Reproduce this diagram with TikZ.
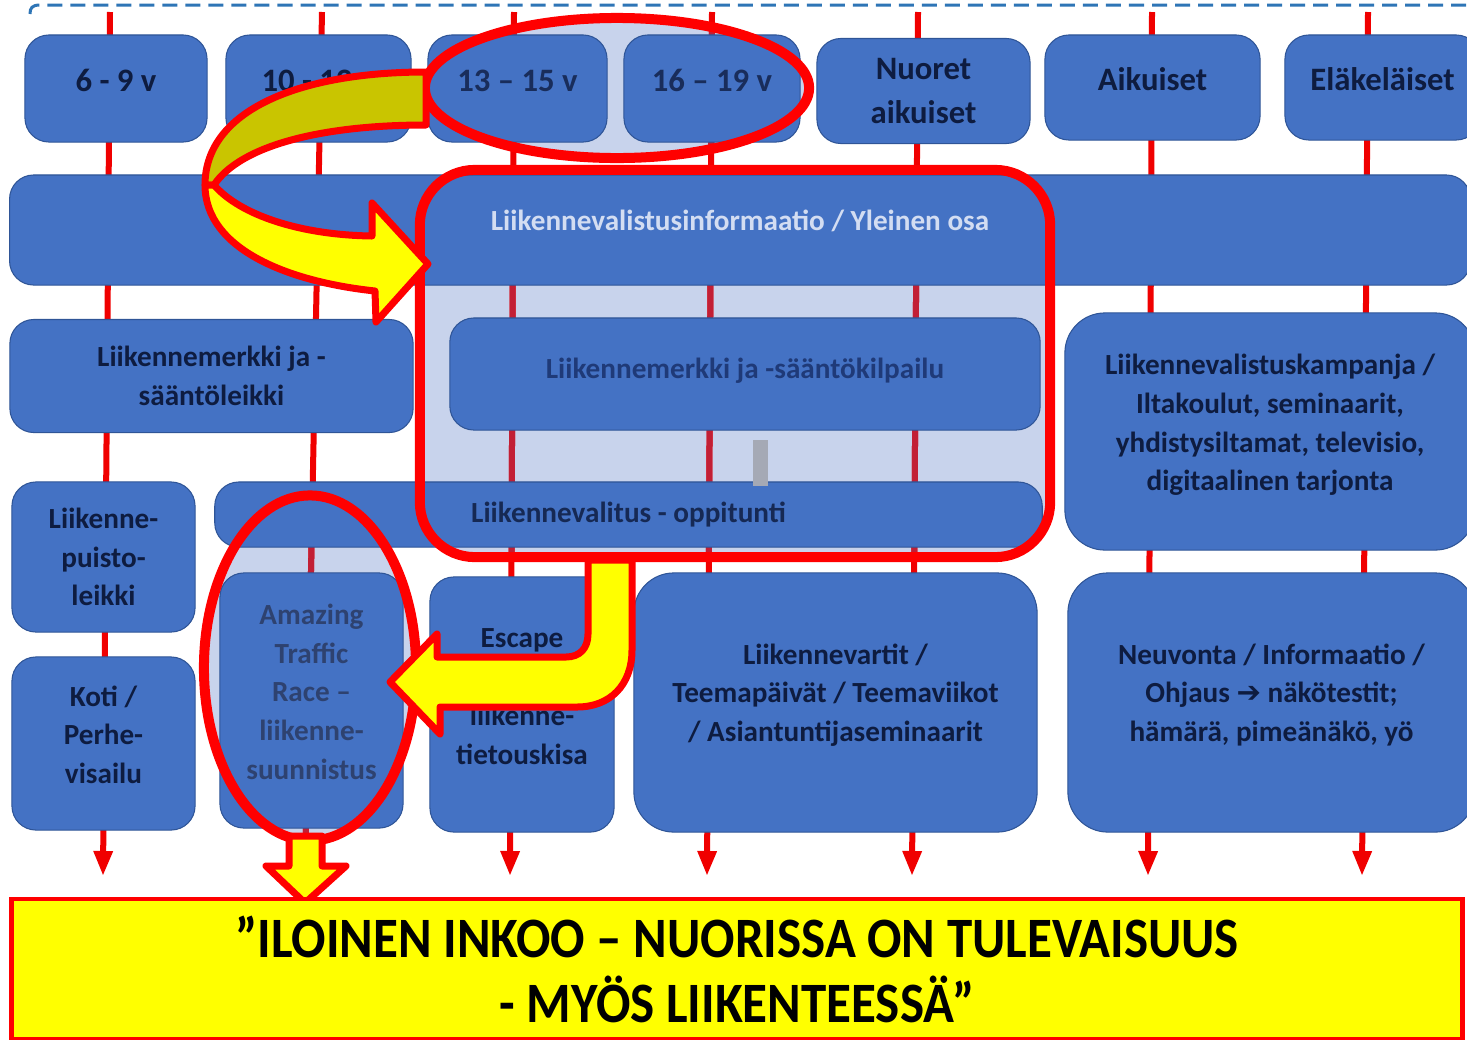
\documentclass[tikz,border=0pt]{standalone}
\usepackage{fontspec}
\setmainfont{Carlito}
\newfontfamily\symfont{DejaVu Sans}
\usetikzlibrary{arrows.meta,shapes.geometric}

\definecolor{boxblue}{HTML}{4472C4}
\definecolor{boxedge}{HTML}{2F5597}
\definecolor{navytext}{HTML}{0E1C40}
\definecolor{fadetext}{RGB}{31,58,120}
\definecolor{paletext}{HTML}{D3DDF2}
\definecolor{greytext}{RGB}{46,66,112}
\definecolor{ringred}{HTML}{FF0000}
\definecolor{lifered}{HTML}{F00000}
\definecolor{shadedred}{HTML}{C21F35}
\definecolor{shadeblue}{HTML}{C8D3EC}
\definecolor{markyellow}{HTML}{FFFF00}
\definecolor{markolive}{HTML}{C9C500}
\definecolor{dashblue}{HTML}{2E75B6}
\definecolor{cursorgrey}{HTML}{A5A9B5}

\tikzset{
  agebox/.style={draw=boxedge, line width=0.3pt, fill=boxblue, rounded corners=2.4mm,
    align=center, text=navytext, inner sep=0pt,
    font=\fontsize{9.3}{12.5}\selectfont\bfseries},
  actbox/.style={agebox, font=\fontsize{8.3}{11}\selectfont\bfseries},
  bigbox/.style={actbox, rounded corners=4mm},
  lifeline/.style={lifered, line width=0.6mm, -{Triangle[width=1.8mm,length=2.5mm]}},
  shadedline/.style={shadedred, line width=0.6mm},
  hilite/.style={fill=shadeblue},
  ring/.style={draw=ringred, line width=1mm},
  bigarrow/.style={draw=ringred, line width=0.7mm, line join=round, fill=markyellow},
}

\begin{document}
\begin{tikzpicture}[x=0.01cm, y=-0.01cm]
  \useasboundingbox (0,0) rectangle (1467,1039);
  \clip (0,0) rectangle (1467,1039);

  % dashed frame at the top
  \draw[dashblue, line width=0.3mm, dash pattern=on 1.5mm off 0.8mm]
    (30,14) .. controls (30,8) and (32,5) .. (40,5) -- (1480,5);

  % light shading of the marked areas
  \fill[hilite] (617,88) ellipse [x radius=1.92cm, y radius=0.7cm];
  \fill[hilite, rounded corners=5.5mm] (420,170) rectangle (1050,557);
  \fill[hilite] (310,668) ellipse [x radius=1.06cm, y radius=1.725cm];

  % life lines of the age groups
  \foreach \i/\xt/\xb in {1/110/103, 2/322/305, 3/514/510, 4/712/707, 5/918/912, 6/1152/1148, 7/1368/1362} {
    \coordinate (top\i) at (\xt,12);
    \coordinate (end\i) at (\xb,876);
    \draw[lifeline] (top\i) -- (end\i);
  }

  % the life lines look darker inside the shading
  \begin{scope}
    \clip (617,88) ellipse [x radius=1.92cm, y radius=0.7cm]
          (310,668) ellipse [x radius=1.06cm, y radius=1.725cm]
          [rounded corners=5.5mm] (420,170) rectangle (1050,557);
    \foreach \i in {2,...,5}
      \draw[shadedline] (top\i) -- (end\i);
  \end{scope}

  % age groups
  \node[agebox, minimum width=1.82cm, minimum height=1.07cm, text depth=1.6mm] (age69) at (116,88.5) {6 - 9 v};
  \node[agebox, minimum width=1.85cm, minimum height=1.07cm, text depth=1.6mm] (age1012) at (318.5,88.5) {10 - 12 v};
  \node[agebox, minimum width=1.79cm, minimum height=1.07cm, text depth=1.6mm, text=navytext!80!boxblue] (age1315) at (517.5,88.5) {13 – 15 v};
  \node[agebox, minimum width=1.76cm, minimum height=1.07cm, text depth=1.6mm, text=navytext!80!boxblue] (age1619) at (712,88.5) {16 – 19 v};
  \node[agebox, minimum width=2.13cm, minimum height=1.05cm] (nuoret) at (923.5,91) {Nuoret\\aikuiset};
  \node[agebox, minimum width=2.15cm, minimum height=1.05cm, text depth=1.6mm] (aikuiset) at (1152.5,87.5) {Aikuiset};
  \node[agebox, minimum width=1.95cm, minimum height=1.05cm, text depth=1.6mm] (elakelaiset) at (1382.5,87.5) {Eläkeläiset};

  % common information bar
  \node[actbox, minimum width=14.6cm, minimum height=1.1cm, text depth=2mm, text=paletext] (yleinen) at (740,230)
    {Liikennevalistusinformaatio / Yleinen osa};

  % activities
  \node[actbox, minimum width=4.03cm, minimum height=1.13cm] (leikki) at (211.5,376)
    {Liikennemerkki ja -\\sääntöleikki};
  \node[actbox, minimum width=5.9cm, minimum height=1.12cm, text depth=1.2mm, text=fadetext] (kilpailu) at (745,374)
    {Liikennemerkki ja -sääntökilpailu};
  \node[bigbox, minimum width=4.1cm, minimum height=2.37cm, text depth=1.8mm] (kampanja) at (1270,431.5)
    {Liikennevalistuskampanja /\\Iltakoulut, seminaarit,\\yhdistysiltamat, televisio,\\digitaalinen tarjonta};
  \node[actbox, minimum width=1.83cm, minimum height=1.5cm] (puisto) at (103.5,557)
    {Liikenne-\\puisto-\\leikki};
  \node[actbox, minimum width=8.27cm, minimum height=0.65cm, text=navytext!85!boxblue] (oppitunti) at (628.5,514.5)
    {Liikennevalitus - oppitunti};
  \node[actbox, minimum width=1.83cm, minimum height=2.55cm, text depth=1.8mm, text=greytext] (race) at (311.5,700.5)
    {Amazing\\Traffic\\Race –\\liikenne-\\suunnistus};
  \node[actbox, minimum width=1.84cm, minimum height=2.55cm, text depth=1.6mm] (escape) at (522,704.5)
    {Escape\\[11pt]liikenne-\\tietouskisa};
  \node[bigbox, minimum width=4.03cm, minimum height=2.59cm, text depth=2mm] (vartit) at (835.5,702.5)
    {Liikennevartit /\\Teemapäivät / Teemaviikot\\/ Asiantuntijaseminaarit};
  \node[bigbox, minimum width=4.07cm, minimum height=2.59cm, text depth=2mm] (neuvonta) at (1271.5,702.5)
    {Neuvonta / Informaatio /\\Ohjaus {\symfont ➔} näkötestit;\\hämärä, pimeänäkö, yö};
  \node[actbox, minimum width=1.83cm, minimum height=1.73cm, text depth=1.8mm] (koti) at (103.5,743.5)
    {Koti /\\Perhe-\\visailu};

  % small grey mark
  \fill[cursorgrey] (753,440) rectangle (768,486);

  % red rings round the marked areas
  \node[ring, ellipse, minimum width=3.84cm, minimum height=1.4cm] (teensring) at (617,88) {};
  \node[ring, rounded corners=5.5mm, minimum width=6.3cm, minimum height=3.87cm] (schoolframe) at (735,363.5) {};
  \node[ring, ellipse, minimum width=2.12cm, minimum height=3.45cm] (racering) at (310,668) {};

  % curved arrow from the teens to the school frame
  \draw[bigarrow, fill=markolive] (426,72) .. controls (300,72) and (205,110) .. (205,185)
    -- (214,185) .. controls (240,146) and (320,125) .. (426,125) -- cycle;
  \draw[bigarrow] (214,185) .. controls (240,215) and (300,235) .. (372,236)
    -- (372,203) -- (428,264) -- (376,322) -- (375,291)
    .. controls (290,282) and (205,250) .. (205,185) -- cycle;

  % arrow from the school frame to the race
  \draw[bigarrow] (632,560) -- (632,650) .. controls (632,685) and (610,707) .. (577,707)
    -- (440,707) -- (440,734) -- (390,682) -- (437,634) -- (437,657)
    -- (566,657) .. controls (580,657) and (588,648) .. (588,634) -- (588,560) -- cycle;

  % arrow from the race to the motto
  \draw[bigarrow] (289,836) -- (289,866) -- (266,866) -- (305,903) -- (346,866)
    -- (322,866) -- (322,836) -- cycle;

  % motto
  \node[draw=ringred, line width=0.45mm, fill=markyellow, minimum width=14.5cm, minimum height=1.4cm,
    align=center, font=\fontsize{14.5}{18.5}\selectfont\bfseries] (motto) at (737,969)
    {\scalebox{1}[1.12]{”ILOINEN INKOO – NUORISSA ON TULEVAISUUS}\\
     \scalebox{1}[1.12]{- MYÖS LIIKENTEESSÄ”}};
\end{tikzpicture}
\end{document}
